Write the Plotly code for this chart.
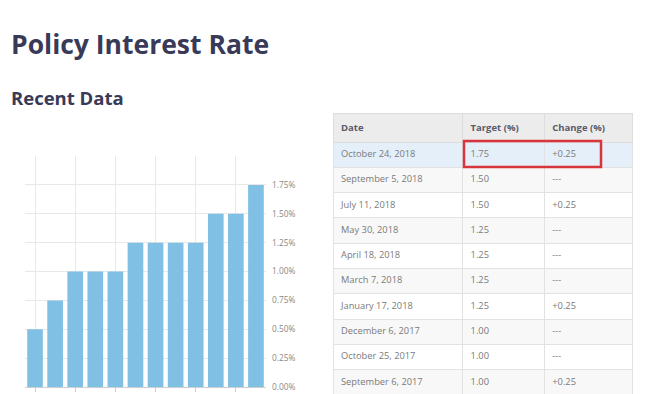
import plotly.graph_objects as go

# ---- data ----
bar_dates = ["2017-05-24", "2017-07-12", "2017-09-06", "2017-10-25", "2017-12-06",
             "2018-01-17", "2018-03-07", "2018-04-18", "2018-05-30", "2018-07-11",
             "2018-09-05", "2018-10-24"]
bar_rates = [0.50, 0.75, 1.00, 1.00, 1.00, 1.25, 1.25, 1.25, 1.25, 1.50, 1.50, 1.75]
x_tick_vals = ["2017-05-24", "2017-09-06", "2017-12-06", "2018-03-07", "2018-05-30", "2018-09-05"]
x_tick_text = ["May '17", "Sep '17", "Dec '17", "Mar '18", "May '18", "Sep '18"]
y_tick_vals = [0, 0.25, 0.5, 0.75, 1.0, 1.25, 1.5, 1.75, 2.0]
y_tick_text = ["0.00%", "0.25%", "0.50%", "0.75%", "1.00%", "1.25%", "1.50%", "1.75%", ""]

table_header = ["Date", "Target (%)", "Change (%)"]
table_dates = ["October 24, 2018", "September 5, 2018", "July 11, 2018", "May 30, 2018",
               "April 18, 2018", "March 7, 2018", "January 17, 2018", "December 6, 2017",
               "October 25, 2017", "September 6, 2017"]
table_target = ["1.75", "1.50", "1.50", "1.25", "1.25", "1.25", "1.25", "1.00", "1.00", "1.00"]
table_change = ["+0.25", "---", "+0.25", "---", "---", "---", "+0.25", "---", "---", "+0.25"]

W, H = 650, 394
def px_x(v):
    return v / W
def px_y(v):
    return 1 - v / H

fig = go.Figure()

fig.add_trace(go.Bar(
    x=bar_dates, y=bar_rates,
    marker=dict(color="#7fc0e4", line=dict(width=0)),
    xaxis="x", yaxis="y", hoverinfo="skip",
))

row_fill = ["#e4eff9"] + ["#f8f8f8" if i % 2 == 1 else "#ffffff" for i in range(1, len(table_dates))]
fig.add_trace(go.Table(
    domain=dict(x=[px_x(333), px_x(633)], y=[0, px_y(113)]),
    columnwidth=[130, 82, 88],
    header=dict(
        values=["<b>%s</b>" % h for h in table_header],
        fill_color="#ececec",
        line_color="#dddddd",
        align="left",
        height=24,
        font=dict(family="Open Sans", size=9.5, color="#5a5a6a"),
    ),
    cells=dict(
        values=[table_dates, table_target, table_change],
        fill_color=[row_fill, row_fill, row_fill],
        line_color="#e2e2e2",
        align="left",
        height=25.3,
        font=dict(family="Open Sans", size=9.3, color="#7a7a7a"),
    ),
))

fig.update_layout(
    width=W, height=H,
    margin=dict(l=0, r=0, t=0, b=0, autoexpand=False),
    paper_bgcolor="white", plot_bgcolor="white",
    showlegend=False,
    bargap=0.22,
    font=dict(family="Open Sans", color="#888888"),
    xaxis=dict(
        domain=[px_x(25), px_x(266)],
        type="category",
        categoryorder="array", categoryarray=bar_dates,
        tickmode="array", tickvals=x_tick_vals, ticktext=x_tick_text,
        tickangle=0, automargin=False,
        showgrid=True, gridcolor="#e8e8e8", gridwidth=1,
        showline=True, linecolor="#d0d0d0", linewidth=1,
        ticks="outside", ticklen=4, tickcolor="#cccccc",
        tickfont=dict(size=8.5, color="#999999"),
        fixedrange=True,
    ),
    yaxis=dict(
        domain=[px_y(387), px_y(156)],
        range=[0, 2.0],
        side="right", automargin=False,
        tickmode="array", tickvals=y_tick_vals, ticktext=y_tick_text,
        showgrid=True, gridcolor="#e8e8e8", gridwidth=1,
        zeroline=False,
        tickfont=dict(size=8.3, color="#888888"),
        ticks="", ticklabelstandoff=5,
        fixedrange=True,
    ),
    annotations=[
        dict(text="<b>Policy Interest Rate</b>", x=px_x(9), y=px_y(44), xref="paper", yref="paper",
             xanchor="left", yanchor="middle", showarrow=False,
             font=dict(family="Open Sans", size=26.5, color="#383a58")),
        dict(text="<b>Recent Data</b>", x=px_x(9), y=px_y(97), xref="paper", yref="paper",
             xanchor="left", yanchor="middle", showarrow=False,
             font=dict(family="Open Sans", size=18.5, color="#383a58")),
    ],
    shapes=[
        dict(type="rect", xref="paper", yref="paper",
             x0=px_x(464), x1=px_x(601), y0=px_y(167), y1=px_y(141),
             line=dict(color="#d8343c", width=2.5), fillcolor="rgba(0,0,0,0)", layer="above"),
    ],
)

fig.write_html(
    "out.html",
    config={"displayModeBar": False},
    post_script="document.body.style.margin='0';document.body.style.overflow='hidden';",
)
